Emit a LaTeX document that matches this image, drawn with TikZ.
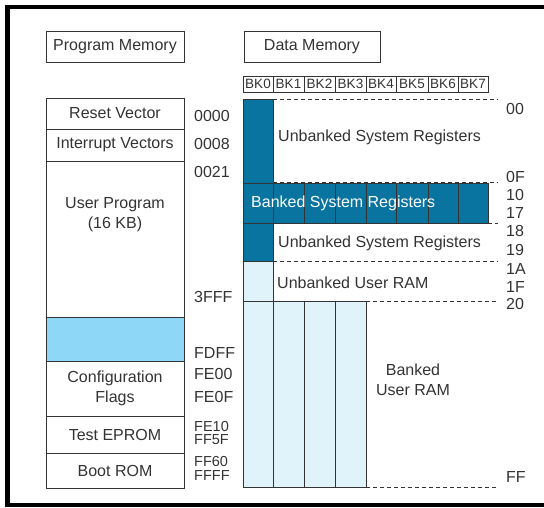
\documentclass[tikz,border=0pt]{standalone}
\usepackage{fontspec}
\setmainfont{Liberation Sans}
\definecolor{regblue}{HTML}{0A74A0}
\definecolor{romblue}{HTML}{8ED7F6}
\definecolor{ramblue}{HTML}{E1F3FA}
\definecolor{inkgray}{HTML}{333333}
\begin{document}
\begin{tikzpicture}[x=1pt, y=-1pt,
    box/.style={draw=inkgray, line width=1pt},
    lbl/.style={text=inkgray, font=\fontsize{16}{20}\selectfont, inner sep=0pt},
    addr/.style={lbl, anchor=west},
    tight/.style={addr, font=\fontsize{14.5}{16}\selectfont},
    bk/.style={text=inkgray, font=\fontsize{13.5}{15}\selectfont, inner sep=0pt},
    guide/.style={draw=inkgray, dash pattern=on 4pt off 3pt, line width=1pt}]
    \useasboundingbox (0,0) rectangle (544,507);

    % Moldura
    \draw[line width=4.5pt] (7.5,507) -- (7.5,7) -- (544,7);
    \draw[line width=4.5pt] (7.5,505) -- (544,505);

    % Titulos
    \draw[box] (46,31) rectangle (184,62) node[midway, lbl] (progtitle) {Program Memory};
    \draw[box] (244,31) rectangle (380,62) node[midway, lbl] (datatitle) {Data Memory};

    % Memoria de programa
    \draw[box] (46,98) rectangle (184,129) node[midway, lbl] (reset) {Reset Vector};
    \draw[box] (46,129) rectangle (184,161) node[midway, lbl] (intvec) {Interrupt Vectors};
    \draw[box] (46,161) rectangle (184,317);
    \node[lbl, align=center] (user) at (115,215) {User Program\\(16 KB)};
    \draw[box, fill=romblue] (46,317) rectangle (184,361);
    \draw[box] (46,361) rectangle (184,416) node[midway, lbl, align=center] (config) {Configuration\\Flags};
    \draw[box] (46,416) rectangle (184,453) node[midway, lbl] (test) {Test EPROM};
    \draw[box] (46,453) rectangle (184,488) node[midway, lbl] (boot) {Boot ROM};

    % Enderecos de programa
    \node[addr] (a0000) at (194,116) {0000};
    \node[addr] (a0008) at (194,144) {0008};
    \node[addr] (a0021) at (194,172) {0021};
    \node[addr] (a3fff) at (194,297) {3FFF};
    \node[addr] (afdff) at (194,353) {FDFF};
    \node[addr] (afe00) at (194,374) {FE00};
    \node[addr] (afe0f) at (194,397) {FE0F};
    \node[tight] (afe10) at (194,426.5) {FE10};
    \node[tight] (aff5f) at (194,439.5) {FF5F};
    \node[tight] (aff60) at (194,462) {FF60};
    \node[tight] (affff) at (194,475.5) {FFFF};

    % Bancos de dados
    \foreach \xl/\xr [count=\k from 0] in {243/273,273/304,304/335,335/366,366/396,396/428,428/458,458/488}{
        \draw[box, line width=0.8pt] (\xl,76) rectangle (\xr,92) node[midway, bk] (bk\k) {BK\k};
        \draw[box, fill=regblue] (\xl,183) rectangle (\xr,223);
    }
    \draw[box, fill=regblue] (243,99) rectangle (273,183);
    \draw[box, fill=regblue] (243,223) rectangle (273,261);
    \draw[box, fill=ramblue] (243,261) rectangle (273,301);
    \foreach \xl/\xr in {243/273,273/304,304/335,335/366}
        \draw[box, fill=ramblue] (\xl,301) rectangle (\xr,487);

    % Linhas tracejadas
    \draw[guide] (273,99) -- (498,99);
    \draw[guide] (273,182) -- (498,182);
    \draw[guide] (488,223) -- (498,223);
    \draw[guide] (273,261) -- (498,261);
    \draw[guide] (366,301) -- (498,301);
    \draw[guide] (366,487) -- (498,487);

    % Regioes
    \node[addr] (usr1) at (278,137) {Unbanked System Registers};
    \node[addr, text=white] (bsr) at (251,203) {Banked System Registers};
    \node[addr] (usr2) at (278,243) {Unbanked System Registers};
    \node[addr] (uram) at (277,283) {Unbanked User RAM};
    \node[lbl, align=center] (bram) at (413,380) {Banked\\User RAM};

    % Enderecos de dados
    \node[addr] (d00) at (506,109) {00};
    \node[addr] (d0f) at (506,177) {0F};
    \node[addr] (d10) at (506,195) {10};
    \node[addr] (d17) at (506,213) {17};
    \node[addr] (d18) at (506,231) {18};
    \node[addr] (d19) at (506,250) {19};
    \node[addr] (d1a) at (506,269) {1A};
    \node[addr] (d1f) at (506,287) {1F};
    \node[addr] (d20) at (506,304) {20};
    \node[addr] (dff) at (506,477) {FF};
\end{tikzpicture}
\end{document}
